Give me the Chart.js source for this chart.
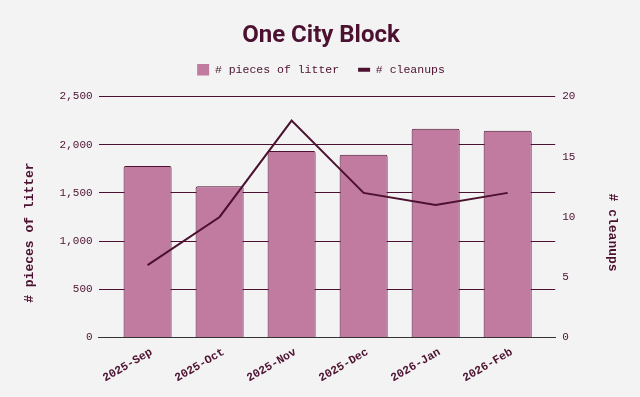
<!DOCTYPE html>
<html>
<head>
<meta charset="utf-8">
<script src="https://cdn.jsdelivr.net/npm/chart.js@4.4.1/dist/chart.umd.min.js"></script>
<style>
    body { margin: 0; background: #f3f3f3; }
    #wrap { width: 640px; height: 397px; }
</style>
</head>
<body>
<div id="wrap"><canvas id="litterChart"></canvas></div>
<script>
const months = ['2025-Sep', '2025-Oct', '2025-Nov', '2025-Dec', '2026-Jan', '2026-Feb'];
const litter = [1780, 1570, 1935, 1895, 2165, 2145];
const cleanups = [6, 10, 18, 12, 11, 12];
const litterTicks = [0, 500, 1000, 1500, 2000, 2500];
const cleanupTicks = [0, 5, 10, 15, 20];

const dark = '#4c1130';
const pink = '#c27ba0';
const mono = "'Liberation Mono', 'Courier New', monospace";

// bars and line share a linear x axis so the plot can run a bit past the outer bars
const toPoints = values => values.map((v, i) => ({ x: i, y: v }));

const ctx = document.getElementById('litterChart').getContext('2d');

new Chart(ctx, {
    data: {
        datasets: [
            {
                type: 'bar',
                label: '# pieces of litter',
                data: toPoints(litter),
                yAxisID: 'y',
                backgroundColor: pink,
                borderColor: dark,
                borderWidth: 1,
                borderRadius: 2,
                categoryPercentage: 1,
                barPercentage: 0.667,
                order: 2
            },
            {
                type: 'line',
                label: '# cleanups',
                data: toPoints(cleanups),
                yAxisID: 'y1',
                borderColor: dark,
                backgroundColor: dark,
                borderWidth: 2,
                pointRadius: 0,
                tension: 0,
                order: 1
            }
        ]
    },
    options: {
        responsive: true,
        maintainAspectRatio: false,
        animation: false,
        layout: { padding: { left: 14, right: 12, bottom: 12 } },
        plugins: {
            title: {
                display: true,
                text: 'One City Block',
                color: dark,
                font: { family: 'Roboto', size: 24, weight: 'bold' },
                padding: { top: 21.6, bottom: -5.4 }
            },
            // empty spacer box between the legend and the plot
            subtitle: {
                display: true,
                text: '',
                weight: 500,
                font: { size: 1, lineHeight: 1 },
                padding: { top: 0, bottom: 10 }
            },
            legend: {
                labels: {
                    color: dark,
                    font: { family: mono, size: 11.5 },
                    padding: 19,
                    usePointStyle: true,
                    boxWidth: 12,
                    boxHeight: 12,
                    pointStyleWidth: 12,
                    generateLabels: chart => Chart.defaults.plugins.legend.labels.generateLabels(chart)
                        .sort((a, b) => a.datasetIndex - b.datasetIndex)
                        .map(item => {
                            if (item.datasetIndex === 0) {
                                item.pointStyle = 'rect';
                                item.lineWidth = 0;
                                item.strokeStyle = pink;
                            } else {
                                item.pointStyle = 'line';
                                item.lineWidth = 4;
                            }
                            return item;
                        })
                }
            },
            tooltip: { enabled: false }
        },
        scales: {
            x: {
                type: 'linear',
                offset: false,
                min: -0.68,
                max: months.length - 1 + 0.66,
                grid: { display: false, offset: false },
                border: { display: true, color: '#333333', width: 1 },
                ticks: {
                    stepSize: 1,
                    includeBounds: false,
                    autoSkip: false,
                    minRotation: 30,
                    maxRotation: 30,
                    padding: 0,
                    labelOffset: 4,
                    color: dark,
                    font: { family: mono, size: 11.5, weight: 'bold' },
                    callback: value => months[value] || ''
                }
            },
            y: {
                position: 'left',
                min: litterTicks[0],
                max: litterTicks[litterTicks.length - 1],
                afterBuildTicks: axis => { axis.ticks = litterTicks.map(v => ({ value: v })); },
                grid: {
                    drawTicks: false,
                    color: c => c.tick && c.tick.value === 0 ? '#333333' : dark
                },
                border: { display: false },
                ticks: {
                    padding: 6,
                    color: dark,
                    font: { family: mono, size: 11 },
                    callback: value => value.toLocaleString('en-US')
                },
                title: {
                    display: true,
                    // trailing spaces push the rotated title a little below centre
                    text: '# pieces of litter    ',
                    color: dark,
                    font: { family: mono, size: 13, weight: 'bold' },
                    padding: { top: 8, bottom: 16 }
                }
            },
            y1: {
                position: 'right',
                min: cleanupTicks[0],
                max: cleanupTicks[cleanupTicks.length - 1],
                afterBuildTicks: axis => { axis.ticks = cleanupTicks.map(v => ({ value: v })); },
                grid: { drawOnChartArea: false, drawTicks: false },
                border: { display: false },
                ticks: {
                    padding: 7,
                    color: dark,
                    font: { family: mono, size: 11 }
                },
                title: {
                    display: true,
                    text: '    # cleanups',
                    color: dark,
                    font: { family: mono, size: 13, weight: 'bold' },
                    padding: { top: 8, bottom: 22 }
                }
            }
        }
    }
});
</script>
</body>
</html>
